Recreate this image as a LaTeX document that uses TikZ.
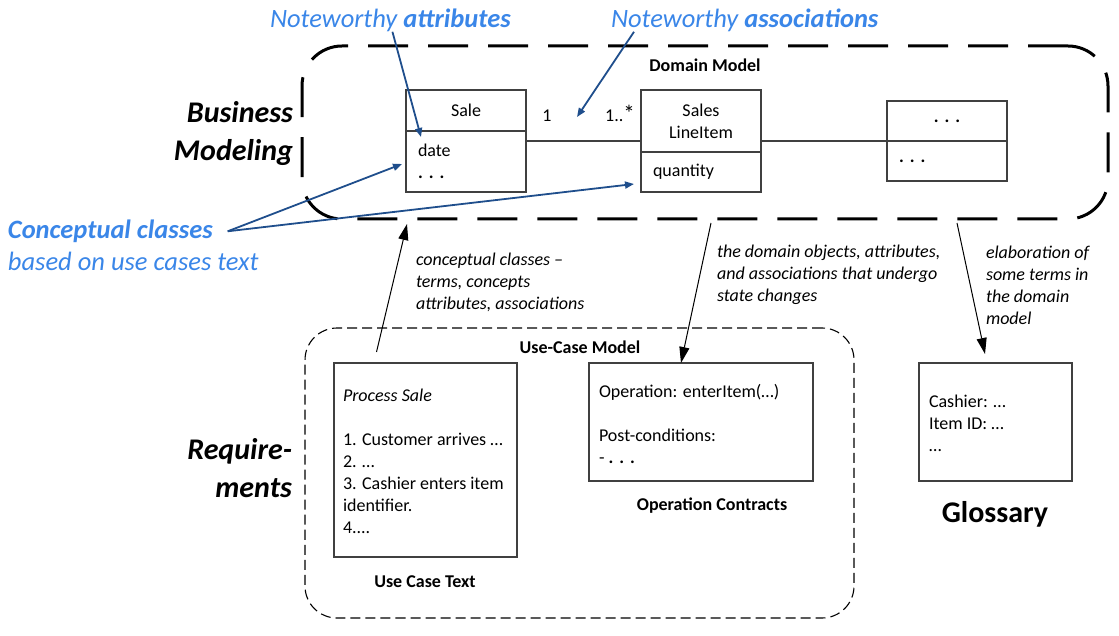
\documentclass[tikz,border=0pt]{standalone}
\usepackage{fontspec}
\setmainfont{Carlito}
\usetikzlibrary{arrows.meta,positioning}
\definecolor{noteblue}{RGB}{58,134,232}
\definecolor{hintblue}{RGB}{31,78,140}
\definecolor{boxgray}{RGB}{64,64,64}
\newcommand{\moredots}{\textbf{.\,\,.\,\,.}}

\begin{document}
\begin{tikzpicture}[x=1pt, y=-1pt,
    every node/.style={inner sep=0pt, outer sep=0pt},
    txt/.style={font=\fontsize{18}{22}\selectfont},
    lbl/.style={font=\fontsize{18}{22}\selectfont\bfseries, anchor=base},
    remark/.style={font=\fontsize{18}{22}\selectfont\itshape, align=left, anchor=west},
    bigtitle/.style={font=\fontsize{30}{38}\selectfont\bfseries\itshape, align=right, anchor=east},
    bluetext/.style={font=\fontsize{26.5}{32}\selectfont\itshape, text=noteblue, anchor=base west},
    cls/.style={txt, draw=boxgray, line width=1.2pt, minimum width=120pt, align=center},
    attrs/.style={cls, inner xsep=12pt, text width=96pt, align=left},
    doc/.style={draw=boxgray, line width=1.2pt},
    modelbox/.style={draw, line width=3pt, dash pattern=on 40pt off 20pt, rounded corners=40pt},
    ucbox/.style={draw, line width=1.1pt, dash pattern=on 10pt off 5pt, rounded corners=32pt},
    assoc/.style={draw=boxgray, line width=1.1pt},
    flow/.style={-{Triangle[length=16pt,width=10pt]}, line width=1pt},
    hint/.style={-{Triangle[length=9pt,width=7pt]}, line width=1.8pt, draw=hintblue}
  ]
    \useasboundingbox (0,0) rectangle (1119,636);

    % business modeling: domain model
    \node[modelbox, minimum width=806pt, minimum height=173pt] (dm) at (705,132.5) {};
    \node[lbl] (dmtitle) at (705,72) {Domain Model};
    \node[bigtitle] (business) at (293,134) {Business\\Modeling};

    \node[cls, minimum height=41pt] (salehead) at (466,110.5) {Sale};
    \node[attrs, minimum height=61pt, below=0pt of salehead] (salebody) {date\\\moredots};
    \node[cls, minimum height=62pt] (slihead) at (701,121) {Sales\\LineItem};
    \node[attrs, minimum height=40pt, below=0pt of slihead] (slibody) {quantity};
    \node[cls, minimum height=40pt] (morehead) at (947,121) {\moredots};
    \node[attrs, minimum height=40pt, below=0pt of morehead] (morebody) {\moredots};

    \draw[assoc] (salebody.east |- morehead.south) -- (slihead.west |- morehead.south);
    \draw[assoc] (slihead.east |- morehead.south) -- (morebody.north west);
    \node[txt, anchor=base] (mone) at (547,122) {1};
    \node[txt, anchor=base] (mmany) at (620,122) {1..{\fontsize{23}{23}\selectfont *}};

    % notes in blue
    \node[bluetext] (noteattr) at (270,27.5) {Noteworthy \textbf{attributes}};
    \node[bluetext] (noteassoc) at (611,27.5) {Noteworthy \textbf{associations}};
    \node[bluetext] (concept) at (8,238.5) {\textbf{Conceptual classes}};
    \node[bluetext] (conceptsub) at (8,270.5) {based on use cases text};

    \draw[hint] ([xshift=2pt]noteattr.south) -- ([xshift=15pt,yshift=-6pt]salebody.north west);
    \draw[hint] ([xshift=23pt]noteassoc.south west) -- ([xshift=-64pt,yshift=4pt]slihead.west);
    \draw[hint] ([xshift=15pt]concept.east) -- ([xshift=-4pt,yshift=-2.5pt]salebody.west);
    \draw[hint] ([xshift=15pt]concept.east) -- ([xshift=-7pt,yshift=-12pt]slibody.west);

    % requirements: use-case model
    \node[ucbox, minimum width=549pt, minimum height=290pt] (ucm) at (579.5,473) {};
    \node[lbl] (ucmtitle) at (580,353) {Use-Case Model};
    \node[bigtitle] (requirements) at (292,468) {Require-\\ments};

    \node[doc, minimum width=183pt, minimum height=194pt] (uctext) at (425.5,460) {};
    \node[txt, align=left, anchor=west] (ucsteps) at ([xshift=9pt,yshift=-1.5pt]uctext.west)
      {\textit{Process Sale}\\[22pt]1. Customer arrives …\\2. …\\3. Cashier enters item\\identifier.\\4....};
    \node[lbl] (uclabel) at (425,587) {Use Case Text};

    \node[doc, minimum width=224pt, minimum height=118pt] (opbox) at (701,422) {};
    \node[txt, align=left, anchor=west] (opsteps) at ([xshift=10pt,yshift=-2pt]opbox.west)
      {Operation: enterItem(…)\\[22pt]Post-conditions:\\- \moredots};
    \node[lbl] (oplabel) at (712,510) {Operation Contracts};

    % glossary
    \node[doc, minimum width=153pt, minimum height=118pt] (glossbox) at (995.5,422) {};
    \node[txt, align=left, anchor=west] (glossterms) at ([xshift=10pt,yshift=-1.5pt]glossbox.west)
      {Cashier: …\\Item ID: …\\…};
    \node[font=\fontsize{30}{36}\selectfont\bfseries, anchor=base] (glosslabel) at (995,522) {Glossary};

    % flows between artifacts
    \draw[flow] ([xshift=-49pt,yshift=11pt]uctext.north) -- ([xshift=-298pt,yshift=-5pt]dm.south);
    \node[remark] (ucnote) at (416,282) {conceptual classes –\\terms, concepts\\attributes, associations};
    \draw[flow] ([xshift=6pt,yshift=-4pt]dm.south) -- ([xshift=-20pt]opbox.north);
    \node[remark] (opnote) at (717,275) {the domain objects, attributes,\\and associations that undergo\\state changes};
    \draw[flow] ([xshift=252pt,yshift=-4pt]dm.south) -- ([xshift=-10.5pt,yshift=9pt]glossbox.north);
    \node[remark] (glossnote) at (986,285) {elaboration of\\some terms in\\the domain\\model};
\end{tikzpicture}
\end{document}
